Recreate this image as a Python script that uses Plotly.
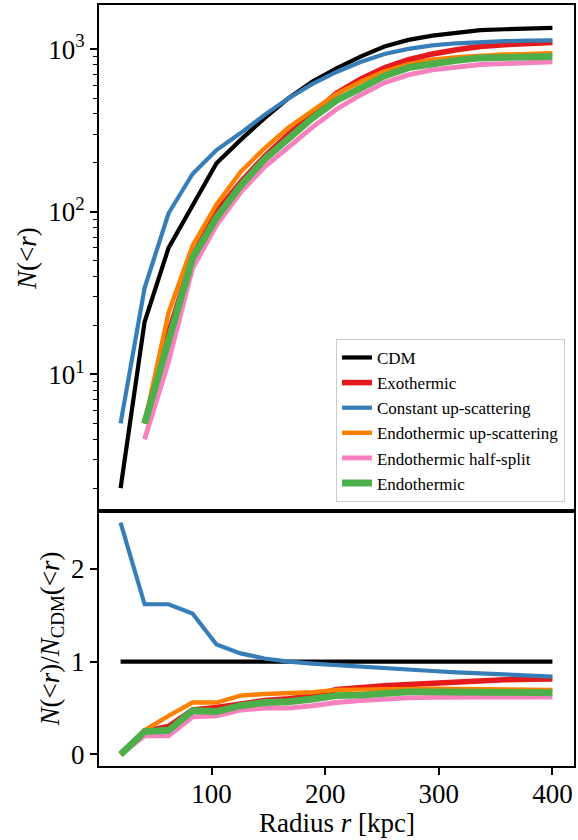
import plotly.graph_objects as go
from plotly.subplots import make_subplots

# ---------------- data ----------------
radius = [20, 41.1, 62.2, 83.3, 104.4, 125.6, 146.7, 167.8, 188.9, 210.0,
          231.1, 252.2, 273.3, 294.4, 315.6, 336.7, 357.8, 378.9, 400]

labels = ["CDM", "Exothermic", "Constant up-scattering",
          "Endothermic up-scattering", "Endothermic half-split", "Endothermic"]
colors = ["#000000", "#e41a1c", "#377eb8", "#ff7f00", "#f781bf", "#4daf4a"]
widths = [4.2, 5.6, 4.2, 4.4, 4.9, 6.9]

n_cdm = [2, 21, 60, 110, 199, 277, 377, 500, 632, 764,
         901, 1038, 1141, 1213, 1265, 1309, 1327, 1339, 1352]
n_exo = [None, 5, 18, 53, 100, 152, 219, 300, 398, 535,
         653, 768, 861, 934, 993, 1041, 1068, 1085, 1102]
n_const = [5, 34, 98, 171, 240, 305, 395, 500, 612, 725,
           835, 935, 1005, 1055, 1088, 1108, 1122, 1130, 1134]
n_endo_up = [None, 5, 24, 62, 111, 176, 246, 330, 423, 532,
             631, 732, 810, 861, 892, 916, 929, 935, 945]
n_half = [None, 4, 12, 45, 83, 132, 189, 250, 332, 428,
          523, 623, 696, 746, 778, 805, 816, 825, 838]
n_endo = [None, 5, 16, 52, 92, 145, 211, 284, 378, 484,
          577, 685, 770, 819, 854, 884, 889, 897, 902]

r_cdm = [1.0, 1.0, 1.0, 1.0, 1.0, 1.0, 1.0, 1.0, 1.0, 1.0,
         1.0, 1.0, 1.0, 1.0, 1.0, 1.0, 1.0, 1.0, 1.0]
r_exo = [0.0, 0.25, 0.30, 0.48, 0.505, 0.55, 0.58, 0.60, 0.63, 0.70,
         0.725, 0.74, 0.755, 0.77, 0.785, 0.795, 0.805, 0.81, 0.815]
r_const = [2.5, 1.62, 1.62, 1.52, 1.185, 1.09, 1.035, 1.0, 0.98, 0.962,
           0.945, 0.93, 0.915, 0.9, 0.885, 0.872, 0.86, 0.85, 0.84]
r_endo_up = [0.0, 0.26, 0.416, 0.56, 0.56, 0.634, 0.652, 0.659, 0.67, 0.696,
             0.70, 0.705, 0.71, 0.71, 0.705, 0.70, 0.70, 0.695, 0.695]
r_half = [0.0, 0.20, 0.20, 0.405, 0.416, 0.478, 0.50, 0.50, 0.525, 0.56,
          0.58, 0.60, 0.61, 0.615, 0.615, 0.615, 0.615, 0.615, 0.62]
r_endo = [0.0, 0.246, 0.26, 0.47, 0.463, 0.525, 0.56, 0.568, 0.598, 0.634,
          0.64, 0.66, 0.675, 0.675, 0.675, 0.675, 0.67, 0.67, 0.665]

top_series = [n_cdm, n_exo, n_const, n_endo_up, n_half, n_endo]
bot_series = [r_cdm, r_exo, r_const, r_endo_up, r_half, r_endo]

log_ticks = [10, 100, 1000]
log_ticktext = ["10<sup>1</sup>", "10<sup>2</sup>", "10<sup>3</sup>"]
minor_log_ticks = [m * d for d in (1, 10, 100) for m in range(2, 10)]

FONT = "Liberation Serif"
FS = 27

fig = make_subplots(rows=2, cols=1, shared_xaxes=True, vertical_spacing=0)

for lab, col, w, ys in zip(labels, colors, widths, top_series):
    fig.add_trace(go.Scatter(x=radius, y=ys, mode="lines", name=lab,
                             line=dict(color=col, width=w),
                             connectgaps=False), row=1, col=1)
for lab, col, w, ys in zip(labels, colors, widths, bot_series):
    fig.add_trace(go.Scatter(x=radius, y=ys, mode="lines", name=lab,
                             showlegend=False,
                             line=dict(color=col, width=w)), row=2, col=1)

axis_common = dict(showline=True, linecolor="black", linewidth=2, mirror=True,
                   ticks="outside", ticklen=7, tickwidth=1.5, tickcolor="black",
                   showgrid=False, zeroline=False,
                   tickfont=dict(family=FONT, size=FS, color="black"))

fig.update_xaxes(range=[1, 419], **axis_common)
fig.update_xaxes(showticklabels=False, ticks="", row=1, col=1)
fig.update_xaxes(tickvals=[100, 200, 300, 400], ticklabelstandoff=-4,
                 row=2, col=1)

fig.update_yaxes(type="log", range=[0.160, 3.272], tickvals=log_ticks,
                 ticktext=log_ticktext,
                 minor=dict(tickvals=minor_log_ticks, ticks="outside",
                            ticklen=4, tickwidth=1.2, tickcolor="black",
                            showgrid=False),
                 title=dict(text="<i>N</i>(&lt;<i>r</i>)",
                            font=dict(family=FONT, size=FS, color="black"),
                            standoff=4),
                 row=1, col=1, **axis_common)
fig.update_yaxes(range=[-0.125, 2.625], tickvals=[0, 1, 2],
                 title=dict(text="<i>N</i>(&lt;<i>r</i>)/<i>N</i><sub>CDM</sub>(&lt;<i>r</i>)",
                            font=dict(family=FONT, size=FS, color="black"),
                            standoff=4),
                 row=2, col=1, **axis_common)

# x-axis title placed as an annotation below the tick labels
fig.add_annotation(text="Radius <i>r</i> [kpc]", xref="paper", yref="paper",
                   x=0.5, y=0, xanchor="center", yanchor="middle", yshift=-57,
                   showarrow=False,
                   font=dict(family=FONT, size=FS, color="black"))

fig.update_layout(
    width=578, height=840,
    margin=dict(l=99, r=2, t=5, b=74),
    paper_bgcolor="white", plot_bgcolor="white",
    font=dict(family=FONT, color="black"),
    showlegend=True,
    legend=dict(x=0.981, y=0.347, xanchor="right", yanchor="bottom",
                bgcolor="rgba(255,255,255,0.8)", bordercolor="#cccccc",
                borderwidth=1, font=dict(family=FONT, size=17, color="black"),
                tracegroupgap=0, itemwidth=30),
)
fig.layout.yaxis.domain = [0.335, 1.0]
fig.layout.yaxis2.domain = [0.0, 0.335]

fig.write_html("out.html")
